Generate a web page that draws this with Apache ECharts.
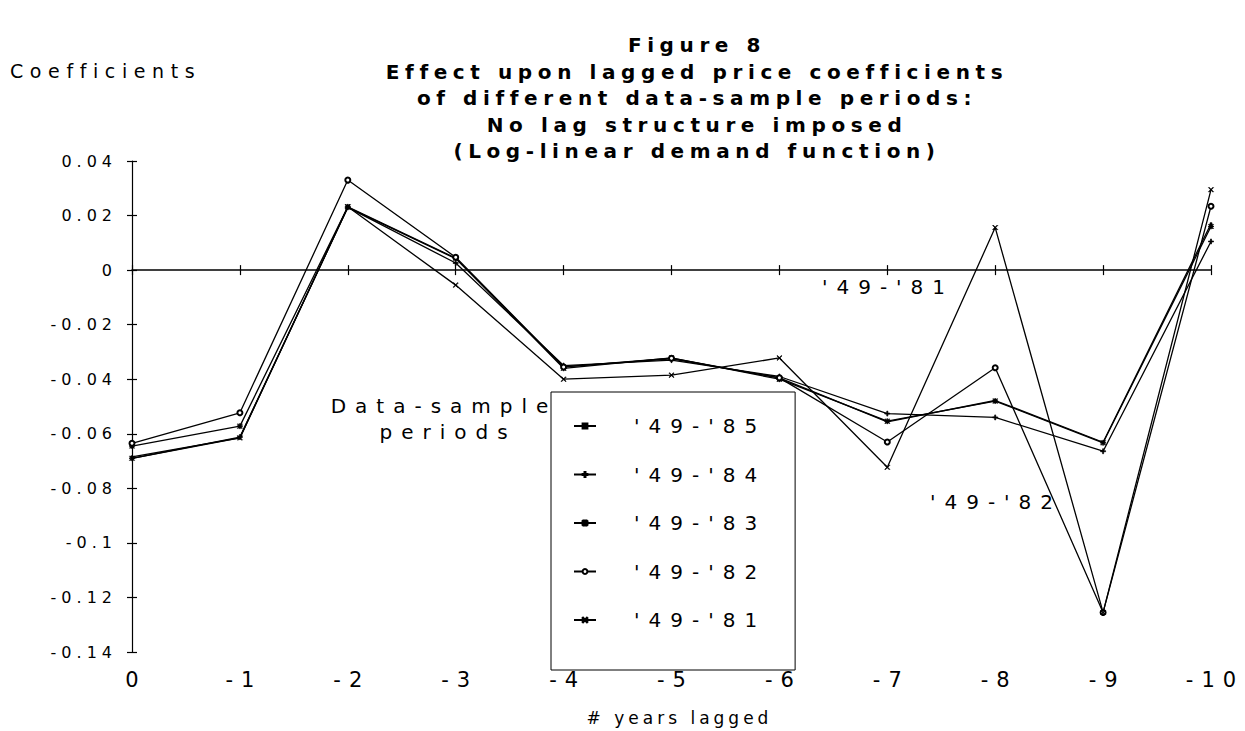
<!DOCTYPE html>
<html>
<head>
<meta charset="utf-8">
<script src="https://cdn.jsdelivr.net/npm/echarts@6/dist/echarts.min.js"></script>
<style>
  html, body { margin: 0; padding: 0; background: #fff; }
  #chart { width: 1245px; height: 731px; }
  #chart text[style*="16px"] { letter-spacing: 5px; }
  #chart text[style*="21px"] { letter-spacing: 8px; }
  #chart text[style*="19px"] { letter-spacing: 6.6px; }
  #chart text[style*="17px"] { letter-spacing: 4px; }
  #chart text[style*="20px"] { letter-spacing: 9px; }
  #chart text[style*="bold"] { letter-spacing: 5.6px; }
</style>
</head>
<body>
<div id="chart"></div>
<script>
// ---- data ----
const categories = ['0', '-1', '-2', '-3', '-4', '-5', '-6', '-7', '-8', '-9', '-10'];
const seriesNames = ["'49-'85", "'49-'84", "'49-'83", "'49-'82", "'49-'81"];
const s85 = [-0.0685, -0.0615, 0.0230, 0.0042, -0.0355, -0.0325, -0.0395, -0.0556, -0.0478, -0.0631, 0.0170];
const s84 = [-0.0690, -0.0612, 0.0230, 0.0026, -0.0350, -0.0330, -0.0390, -0.0526, -0.0540, -0.0664, 0.0105];
const s83 = [-0.0645, -0.0572, 0.0232, 0.0044, -0.0360, -0.0322, -0.0400, -0.0554, -0.0480, -0.0633, 0.0160];
const s82 = [-0.0635, -0.0523, 0.0330, 0.0047, -0.0355, -0.0323, -0.0395, -0.0630, -0.0358, -0.1255, 0.0234];
const s81 = [-0.0690, -0.0615, 0.0232, -0.0055, -0.0400, -0.0385, -0.0322, -0.0723, 0.0156, -0.1255, 0.0295];
const yMin = -0.14, yMax = 0.04, yStep = 0.02;

const titleLines = ['Figure 8', 'Effect upon lagged price coefficients', 'of different data-sample periods:', 'No lag structure imposed', '(Log-linear demand function)'];
const yName = 'Coefficients';
const xName = '# years lagged';
const legendCaption = ['Data-sample', 'periods'];

// ---- chart ----
const FONT = 'DejaVu Sans';
const symbols = [
  'rect',
  'path://M0,4H10V6H0ZM4,0H6V10H4Z',
  'path://M0,4H10V6H0ZM4,0H6V10H4ZM0,1L1,0L10,9L9,10ZM9,0L10,1L1,10L0,9Z',
  'emptyCircle',
  'path://M0,1L1,0L10,9L9,10ZM9,0L10,1L1,10L0,9Z'
];
const symbolSizes = [2, 5, 5, 5, 5];
const allData = [s85, s84, s83, s82, s81];

const chart = echarts.init(document.getElementById('chart'), null, { renderer: 'svg' });

const catAxisBase = {
  type: 'category',
  data: categories,
  boundaryGap: false,
  splitLine: { show: false }
};

const option = {
  animation: false,
  backgroundColor: '#fff',
  grid: { left: 132, right: 34, top: 161, bottom: 79, containLabel: false },
  xAxis: [
    Object.assign({}, catAxisBase, {
      position: 'bottom',
      axisLine: { show: false, onZero: false },
      axisTick: { show: false },
      axisLabel: { color: '#000', fontFamily: FONT, fontSize: 21, margin: 17, padding: [0, 0, 0, 8] },
      name: xName,
      nameLocation: 'middle',
      nameGap: 57,
      nameTextStyle: { color: '#000', fontFamily: FONT, fontSize: 17, padding: [0, 0, 0, 16] }
    }),
    Object.assign({}, catAxisBase, {
      position: 'bottom',
      axisLine: { show: true, onZero: true, lineStyle: { color: '#000', width: 1.5 } },
      axisTick: { show: true, inside: false, length: 5, lineStyle: { color: '#000', width: 1.2 } },
      axisLabel: { show: false }
    }),
    Object.assign({}, catAxisBase, {
      position: 'top',
      axisLine: { show: false, onZero: true },
      axisTick: { show: true, inside: false, length: 5, lineStyle: { color: '#000', width: 1.2 } },
      axisLabel: { show: false }
    })
  ],
  yAxis: [
    {
      type: 'value', position: 'left', min: yMin, max: yMax, interval: yStep,
      axisLine: { show: true, onZero: false, lineStyle: { color: '#000', width: 1.2 } },
      axisTick: { show: true, inside: false, length: 5, lineStyle: { color: '#000', width: 1.2 } },
      splitLine: { show: false },
      axisLabel: {
        color: '#000', fontFamily: FONT, fontSize: 16, margin: 15,
        formatter: v => String(+v.toFixed(2))
      }
    },
    {
      type: 'value', position: 'left', min: yMin, max: yMax, interval: yStep,
      axisLine: { show: false, onZero: false },
      axisTick: { show: true, inside: true, length: 5, lineStyle: { color: '#000', width: 1.2 } },
      splitLine: { show: false },
      axisLabel: { show: false }
    }
  ],
  legend: {
    orient: 'vertical',
    left: 551,
    top: 392,
    data: seriesNames,
    itemWidth: 22,
    itemHeight: 6,
    itemGap: 28.5,
    padding: [24, 92, 40, 22],
    borderColor: '#000',
    borderWidth: 1,
    selectedMode: false,
    textStyle: { color: '#000', fontFamily: FONT, fontSize: 20, padding: [0, 0, 0, 33] }
  },
  series: seriesNames.map((name, i) => ({
    name: name,
    type: 'line',
    xAxisIndex: 0,
    yAxisIndex: 0,
    data: allData[i],
    symbol: symbols[i],
    symbolSize: symbolSizes[i],
    showSymbol: true,
    lineStyle: { color: '#000', width: 1.3 },
    itemStyle: { color: '#000', borderColor: '#000', borderWidth: 0.7 },
    z: 3
  })),
  graphic: [
    {
      type: 'text', x: 697, y: 32,
      style: {
        text: titleLines.join('\n'), align: 'center', verticalAlign: 'top',
        fontFamily: FONT, fontSize: 20, fontWeight: 'bold', lineHeight: 26.5, fill: '#000'
      }
    },
    {
      type: 'text', x: 10, y: 71,
      style: { text: yName, align: 'left', verticalAlign: 'middle', fontFamily: FONT, fontSize: 19, fill: '#000' }
    },
    {
      type: 'text', x: 444, y: 406,
      style: { text: legendCaption[0], align: 'center', verticalAlign: 'middle', fontFamily: FONT, fontSize: 20, fill: '#000' }
    },
    {
      type: 'text', x: 448, y: 432,
      style: { text: legendCaption[1], align: 'center', verticalAlign: 'middle', fontFamily: FONT, fontSize: 20, fill: '#000' }
    },
    {
      type: 'text', x: 888, y: 287,
      style: { text: seriesNames[4], align: 'center', verticalAlign: 'middle', fontFamily: FONT, fontSize: 20, fill: '#000' }
    },
    {
      type: 'text', x: 996, y: 502,
      style: { text: seriesNames[3], align: 'center', verticalAlign: 'middle', fontFamily: FONT, fontSize: 20, fill: '#000' }
    }
  ]
};
chart.setOption(option);
</script>
</body>
</html>
